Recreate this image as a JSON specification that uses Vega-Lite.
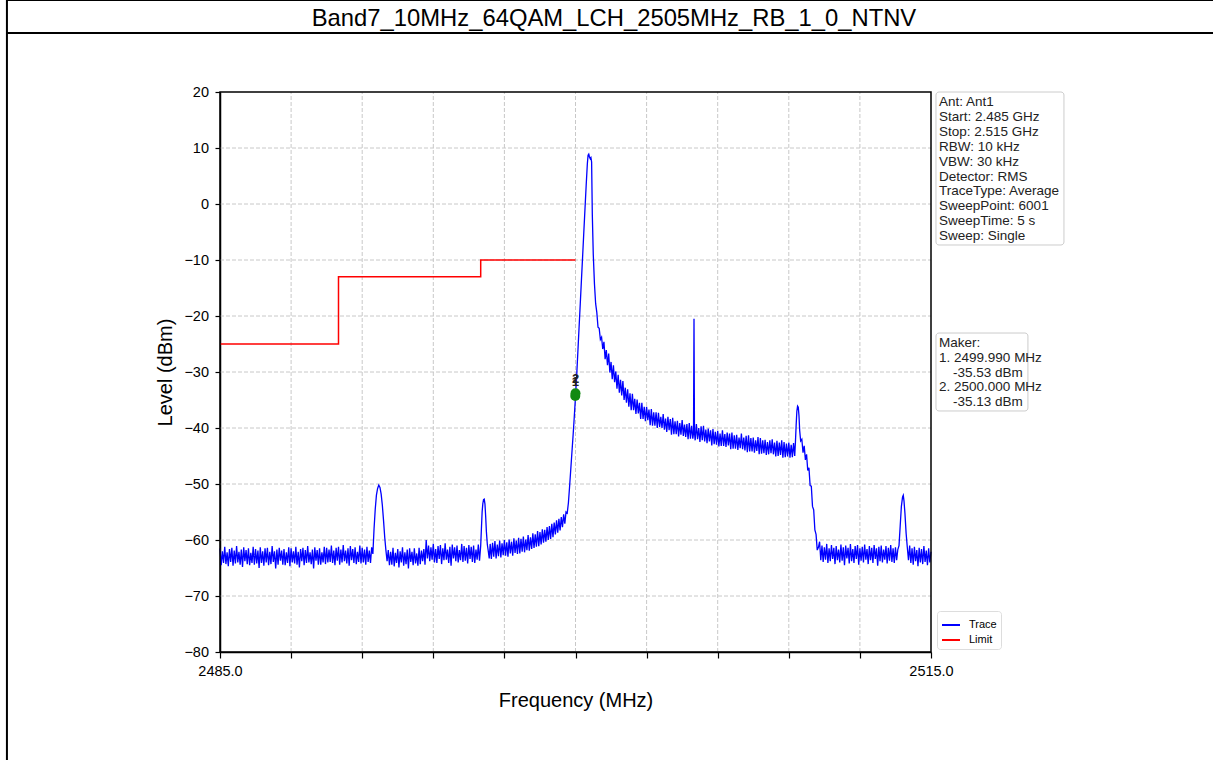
{
"$schema": "https://vega.github.io/schema/vega-lite/v6.json",
"width": 1206,
"height": 727,
"autosize": {"type": "none"},
"padding": {"left": 7, "top": 33, "right": 0, "bottom": 0},
"background": "white",
"config": {"font": "Liberation Sans", "view": {"stroke": null}},
"title": {"text": "Band7_10MHz_64QAM_LCH_2505MHz_RB_1_0_NTNV", "fontSize": 23.8, "fontWeight": "normal", "color": "black", "anchor": "middle", "frame": "group", "offset": -32.3, "dx": 4},
"datasets": {
"gx": [{"v":2488},{"v":2491},{"v":2494},{"v":2497},{"v":2500},{"v":2503},{"v":2506},{"v":2509},{"v":2512}],
"gy": [{"v":-70},{"v":-60},{"v":-50},{"v":-40},{"v":-30},{"v":-20},{"v":-10},{"v":0},{"v":10}],
"info1": [{"t": "Ant: Ant1\nStart: 2.485 GHz\nStop: 2.515 GHz\nRBW: 10 kHz\nVBW: 30 kHz\nDetector: RMS\nTraceType: Average\nSweepPoint: 6001\nSweepTime: 5 s\nSweep: Single"}],
"limit": [{"i":0,"f":2485,"l":-25},{"i":1,"f":2490,"l":-25},{"i":2,"f":2490,"l":-13},{"i":3,"f":2496,"l":-13},{"i":4,"f":2496,"l":-10},{"i":5,"f":2500,"l":-10}],
"markers": [{"m":"1","f":2499.99,"l":-34.3},{"m":"2","f":2500.0,"l":-33.8}],
"trace": [
{"f":2485.00,"l":-61.5},{"f":2485.05,"l":-64.5},{"f":2485.10,"l":-62.0},{"f":2485.15,"l":-64.1},{"f":2485.20,"l":-61.2},{"f":2485.25,"l":-64.3},{"f":2485.30,"l":-62.2},{"f":2485.35,"l":-64.7},{"f":2485.40,"l":-61.6},{"f":2485.45,"l":-63.9},
{"f":2485.50,"l":-61.4},{"f":2485.55,"l":-64.6},{"f":2485.60,"l":-61.9},{"f":2485.65,"l":-64.2},{"f":2485.70,"l":-61.1},{"f":2485.75,"l":-64.0},{"f":2485.80,"l":-62.1},{"f":2485.85,"l":-64.4},{"f":2485.90,"l":-61.7},{"f":2485.95,"l":-64.8},
{"f":2486.00,"l":-61.3},{"f":2486.05,"l":-63.8},{"f":2486.10,"l":-61.8},{"f":2486.15,"l":-64.3},{"f":2486.20,"l":-61.5},{"f":2486.25,"l":-64.5},{"f":2486.30,"l":-62.3},{"f":2486.35,"l":-64.1},{"f":2486.40,"l":-61.2},{"f":2486.45,"l":-64.4},
{"f":2486.50,"l":-61.6},{"f":2486.55,"l":-64.2},{"f":2486.60,"l":-61.9},{"f":2486.65,"l":-65.0},{"f":2486.70,"l":-61.3},{"f":2486.75,"l":-64.1},{"f":2486.80,"l":-62.0},{"f":2486.85,"l":-64.6},{"f":2486.90,"l":-61.5},{"f":2486.95,"l":-64.0},
{"f":2487.00,"l":-61.4},{"f":2487.05,"l":-64.5},{"f":2487.10,"l":-62.1},{"f":2487.15,"l":-64.3},{"f":2487.20,"l":-61.1},{"f":2487.25,"l":-63.9},{"f":2487.30,"l":-62.0},{"f":2487.35,"l":-65.1},{"f":2487.40,"l":-61.7},{"f":2487.45,"l":-64.4},
{"f":2487.50,"l":-61.4},{"f":2487.55,"l":-63.7},{"f":2487.60,"l":-61.9},{"f":2487.65,"l":-64.4},{"f":2487.70,"l":-61.6},{"f":2487.75,"l":-64.5},{"f":2487.80,"l":-62.2},{"f":2487.85,"l":-64.1},{"f":2487.90,"l":-61.3},{"f":2487.95,"l":-64.7},
{"f":2488.00,"l":-61.5},{"f":2488.05,"l":-64.0},{"f":2488.10,"l":-62.0},{"f":2488.15,"l":-64.2},{"f":2488.20,"l":-61.2},{"f":2488.25,"l":-64.4},{"f":2488.30,"l":-62.1},{"f":2488.35,"l":-64.9},{"f":2488.40,"l":-61.6},{"f":2488.45,"l":-63.8},
{"f":2488.50,"l":-61.4},{"f":2488.55,"l":-64.5},{"f":2488.60,"l":-61.8},{"f":2488.65,"l":-64.1},{"f":2488.70,"l":-61.1},{"f":2488.75,"l":-64.0},{"f":2488.80,"l":-62.2},{"f":2488.85,"l":-64.3},{"f":2488.90,"l":-61.7},{"f":2488.95,"l":-65.1},
{"f":2489.00,"l":-61.3},{"f":2489.05,"l":-63.7},{"f":2489.10,"l":-61.8},{"f":2489.15,"l":-64.4},{"f":2489.20,"l":-61.5},{"f":2489.25,"l":-64.4},{"f":2489.30,"l":-62.2},{"f":2489.35,"l":-64.0},{"f":2489.40,"l":-61.2},{"f":2489.45,"l":-64.3},
{"f":2489.50,"l":-61.4},{"f":2489.55,"l":-64.0},{"f":2489.60,"l":-61.7},{"f":2489.65,"l":-63.9},{"f":2489.70,"l":-61.0},{"f":2489.75,"l":-64.1},{"f":2489.80,"l":-61.9},{"f":2489.85,"l":-64.5},{"f":2489.90,"l":-61.4},{"f":2489.95,"l":-63.7},
{"f":2490.00,"l":-61.2},{"f":2490.05,"l":-64.4},{"f":2490.10,"l":-61.7},{"f":2490.15,"l":-64.0},{"f":2490.20,"l":-60.9},{"f":2490.25,"l":-63.8},{"f":2490.30,"l":-61.9},{"f":2490.35,"l":-64.2},{"f":2490.40,"l":-61.5},{"f":2490.45,"l":-64.6},
{"f":2490.50,"l":-61.1},{"f":2490.55,"l":-63.6},{"f":2490.60,"l":-61.6},{"f":2490.65,"l":-64.1},{"f":2490.70,"l":-61.3},{"f":2490.75,"l":-64.3},{"f":2490.80,"l":-62.1},{"f":2490.85,"l":-63.9},{"f":2490.90,"l":-61.0},{"f":2490.95,"l":-64.2},
{"f":2491.00,"l":-61.4},{"f":2491.05,"l":-64.0},{"f":2491.10,"l":-61.7},{"f":2491.15,"l":-64.4},{"f":2491.20,"l":-61.2},{"f":2491.25,"l":-63.9},{"f":2491.30,"l":-61.9},{"f":2491.35,"l":-64.1},{"f":2491.40,"l":-61.3},
{"f":2491.45,"l":-62.5},{"f":2491.50,"l":-58.0},{"f":2491.55,"l":-54.5},{"f":2491.60,"l":-52.0},{"f":2491.65,"l":-50.8},{"f":2491.70,"l":-50.2},{"f":2491.75,"l":-50.6},{"f":2491.80,"l":-51.8},{"f":2491.85,"l":-53.8},{"f":2491.90,"l":-56.5},{"f":2491.95,"l":-59.5},{"f":2492.00,"l":-61.8},{"f":2492.05,"l":-63.8},
{"f":2492.10,"l":-61.8},{"f":2492.15,"l":-64.5},{"f":2492.20,"l":-62.1},{"f":2492.25,"l":-64.4},{"f":2492.30,"l":-61.4},{"f":2492.35,"l":-64.7},{"f":2492.40,"l":-62.3},{"f":2492.45,"l":-64.1},{"f":2492.50,"l":-61.6},{"f":2492.55,"l":-64.9},
{"f":2492.60,"l":-62.0},{"f":2492.65,"l":-64.0},{"f":2492.70,"l":-61.3},{"f":2492.75,"l":-64.6},{"f":2492.80,"l":-62.2},{"f":2492.85,"l":-64.3},{"f":2492.90,"l":-61.7},{"f":2492.95,"l":-65.1},{"f":2493.00,"l":-61.5},{"f":2493.05,"l":-63.9},
{"f":2493.10,"l":-62.1},{"f":2493.15,"l":-64.5},{"f":2493.20,"l":-61.5},{"f":2493.25,"l":-64.2},{"f":2493.30,"l":-62.4},{"f":2493.35,"l":-64.6},{"f":2493.40,"l":-61.4},{"f":2493.45,"l":-64.3},{"f":2493.50,"l":-61.9},{"f":2493.55,"l":-63.8},
{"f":2493.60,"l":-61.6},{"f":2493.65,"l":-64.4},{"f":2493.70,"l":-60.0},{"f":2493.75,"l":-63.3},
{"f":2493.80,"l":-61.0},{"f":2493.85,"l":-63.8},{"f":2493.90,"l":-61.3},{"f":2493.95,"l":-63.5},{"f":2494.00,"l":-60.7},{"f":2494.05,"l":-64.0},{"f":2494.10,"l":-61.6},{"f":2494.15,"l":-64.1},{"f":2494.20,"l":-61.1},{"f":2494.25,"l":-63.4},
{"f":2494.30,"l":-60.9},{"f":2494.35,"l":-64.3},{"f":2494.40,"l":-61.5},{"f":2494.45,"l":-63.6},{"f":2494.50,"l":-60.6},{"f":2494.55,"l":-63.5},{"f":2494.60,"l":-61.7},{"f":2494.65,"l":-64.1},{"f":2494.70,"l":-61.2},{"f":2494.75,"l":-64.6},
{"f":2494.80,"l":-60.8},{"f":2494.85,"l":-63.3},{"f":2494.90,"l":-61.3},{"f":2494.95,"l":-63.8},{"f":2495.00,"l":-61.0},{"f":2495.05,"l":-64.0},{"f":2495.10,"l":-61.8},{"f":2495.15,"l":-63.6},{"f":2495.20,"l":-60.7},{"f":2495.25,"l":-63.9},
{"f":2495.30,"l":-61.1},{"f":2495.35,"l":-63.7},{"f":2495.40,"l":-61.4},{"f":2495.45,"l":-64.2},{"f":2495.50,"l":-60.9},{"f":2495.55,"l":-63.4},{"f":2495.60,"l":-61.2},{"f":2495.65,"l":-63.9},{"f":2495.70,"l":-61.0},{"f":2495.75,"l":-64.1},
{"f":2495.80,"l":-61.7},{"f":2495.85,"l":-63.5},{"f":2495.90,"l":-60.8},{"f":2495.95,"l":-63.7},
{"f":2496.00,"l":-61.0},{"f":2496.03,"l":-58.0},{"f":2496.06,"l":-55.0},{"f":2496.09,"l":-53.5},{"f":2496.12,"l":-52.8},{"f":2496.15,"l":-52.7},{"f":2496.18,"l":-53.6},{"f":2496.21,"l":-55.8},{"f":2496.24,"l":-58.5},{"f":2496.28,"l":-60.8},{"f":2496.32,"l":-62.0},{"f":2496.36,"l":-63.3},
{"f":2496.40,"l":-60.7},{"f":2496.45,"l":-63.4},{"f":2496.50,"l":-60.5},{"f":2496.55,"l":-63.0},{"f":2496.60,"l":-60.2},{"f":2496.65,"l":-63.3},{"f":2496.70,"l":-60.8},{"f":2496.75,"l":-62.9},{"f":2496.80,"l":-60.1},{"f":2496.85,"l":-63.1},
{"f":2496.90,"l":-60.6},{"f":2496.95,"l":-62.7},{"f":2497.00,"l":-60.0},{"f":2497.05,"l":-62.8},{"f":2497.10,"l":-60.4},{"f":2497.15,"l":-63.0},{"f":2497.20,"l":-59.9},{"f":2497.25,"l":-62.4},{"f":2497.30,"l":-60.3},{"f":2497.35,"l":-62.8},
{"f":2497.40,"l":-59.7},{"f":2497.45,"l":-62.3},{"f":2497.50,"l":-60.1},{"f":2497.55,"l":-62.5},{"f":2497.60,"l":-59.6},{"f":2497.65,"l":-62.4},{"f":2497.70,"l":-59.8},{"f":2497.75,"l":-62.1},{"f":2497.80,"l":-59.4},{"f":2497.85,"l":-62.2},
{"f":2497.90,"l":-59.9},{"f":2497.95,"l":-61.8},{"f":2498.00,"l":-59.1},{"f":2498.05,"l":-61.9},{"f":2498.10,"l":-59.5},{"f":2498.15,"l":-61.6},{"f":2498.20,"l":-58.8},{"f":2498.25,"l":-61.4},{"f":2498.30,"l":-59.0},{"f":2498.35,"l":-61.2},
{"f":2498.40,"l":-58.4},{"f":2498.45,"l":-61.1},{"f":2498.50,"l":-58.6},{"f":2498.55,"l":-60.8},{"f":2498.60,"l":-58.1},{"f":2498.65,"l":-60.5},{"f":2498.70,"l":-58.2},{"f":2498.75,"l":-60.3},{"f":2498.80,"l":-57.7},{"f":2498.85,"l":-60.0},
{"f":2498.90,"l":-57.5},{"f":2498.95,"l":-59.8},{"f":2499.00,"l":-57.1},{"f":2499.05,"l":-59.5},{"f":2499.10,"l":-56.9},{"f":2499.15,"l":-59.0},{"f":2499.20,"l":-56.5},{"f":2499.25,"l":-58.7},{"f":2499.30,"l":-56.2},{"f":2499.35,"l":-58.3},
{"f":2499.40,"l":-55.9},{"f":2499.45,"l":-57.7},{"f":2499.50,"l":-55.4},{"f":2499.55,"l":-57.1},{"f":2499.60,"l":-55.0},{"f":2499.65,"l":-55.2},
{"f":2499.70,"l":-53.4},{"f":2499.75,"l":-50.5},{"f":2499.80,"l":-47.4},{"f":2499.85,"l":-44.3},{"f":2499.90,"l":-41.2},{"f":2499.95,"l":-37.9},{"f":2500.00,"l":-34.4},{"f":2500.05,"l":-30.6},{"f":2500.10,"l":-26.4},{"f":2500.15,"l":-22.1},
{"f":2500.20,"l":-17.9},{"f":2500.25,"l":-13.6},{"f":2500.30,"l":-9.4},{"f":2500.35,"l":-5.1},{"f":2500.40,"l":-0.9},{"f":2500.45,"l":3.3},{"f":2500.50,"l":7.2},{"f":2500.53,"l":8.7},{"f":2500.56,"l":8.9},{"f":2500.59,"l":8.4},
{"f":2500.62,"l":8.1},{"f":2500.65,"l":8.3},{"f":2500.68,"l":7.5},{"f":2500.71,"l":-2.0},
{"f":2500.75,"l":-9.0},{"f":2500.80,"l":-14.3},{"f":2500.85,"l":-17.8},{"f":2500.90,"l":-19.4},{"f":2500.95,"l":-22.0},{"f":2501.00,"l":-22.2},{"f":2501.05,"l":-24.2},{"f":2501.10,"l":-23.8},{"f":2501.15,"l":-25.9},{"f":2501.20,"l":-24.6},
{"f":2501.25,"l":-27.7},{"f":2501.30,"l":-26.1},{"f":2501.35,"l":-28.8},{"f":2501.40,"l":-26.7},{"f":2501.45,"l":-30.1},{"f":2501.50,"l":-28.2},{"f":2501.55,"l":-31.3},{"f":2501.60,"l":-28.8},{"f":2501.65,"l":-31.8},{"f":2501.70,"l":-29.9},
{"f":2501.75,"l":-33.0},{"f":2501.80,"l":-30.5},{"f":2501.85,"l":-33.7},{"f":2501.90,"l":-31.4},{"f":2501.95,"l":-34.2},{"f":2502.00,"l":-31.6},{"f":2502.05,"l":-35.0},{"f":2502.10,"l":-32.8},{"f":2502.15,"l":-35.5},{"f":2502.20,"l":-33.1},
{"f":2502.25,"l":-36.2},{"f":2502.30,"l":-33.8},{"f":2502.35,"l":-36.8},{"f":2502.40,"l":-33.9},{"f":2502.45,"l":-36.8},{"f":2502.50,"l":-34.8},{"f":2502.55,"l":-37.5},{"f":2502.60,"l":-34.9},{"f":2502.65,"l":-37.4},{"f":2502.70,"l":-35.5},
{"f":2502.75,"l":-38.4},{"f":2502.80,"l":-35.5},{"f":2502.85,"l":-38.4},{"f":2502.90,"l":-36.2},{"f":2502.95,"l":-38.8},{"f":2503.00,"l":-36.2},{"f":2503.05,"l":-38.6},{"f":2503.10,"l":-36.7},{"f":2503.15,"l":-39.5},{"f":2503.20,"l":-36.6},
{"f":2503.25,"l":-39.6},{"f":2503.30,"l":-37.2},{"f":2503.35,"l":-39.6},{"f":2503.40,"l":-37.2},{"f":2503.45,"l":-40.0},{"f":2503.50,"l":-37.3},{"f":2503.55,"l":-39.8},{"f":2503.60,"l":-38.0},{"f":2503.65,"l":-40.0},{"f":2503.70,"l":-37.5},
{"f":2503.75,"l":-40.3},{"f":2503.80,"l":-38.3},{"f":2503.85,"l":-40.7},{"f":2503.90,"l":-38.0},{"f":2503.95,"l":-40.4},{"f":2504.00,"l":-38.4},{"f":2504.05,"l":-41.2},{"f":2504.10,"l":-38.2},{"f":2504.15,"l":-41.1},{"f":2504.20,"l":-38.8},
{"f":2504.25,"l":-41.1},{"f":2504.30,"l":-38.7},{"f":2504.35,"l":-41.5},{"f":2504.40,"l":-39.1},{"f":2504.45,"l":-41.2},{"f":2504.50,"l":-38.6},{"f":2504.55,"l":-41.4},{"f":2504.60,"l":-39.4},{"f":2504.65,"l":-41.6},{"f":2504.70,"l":-39.3},
{"f":2504.75,"l":-42.0},{"f":2504.80,"l":-39.1},{"f":2504.85,"l":-41.9},{"f":2504.90,"l":-39.6},{"f":2504.95,"l":-41.9},{"f":2504.98,"l":-40.9},{"f":2505.00,"l":-20.5},{"f":2505.02,"l":-40.8},{"f":2505.05,"l":-42.2},{"f":2505.10,"l":-39.3},
{"f":2505.15,"l":-42.0},{"f":2505.20,"l":-40.0},{"f":2505.25,"l":-42.5},{"f":2505.30,"l":-39.7},{"f":2505.35,"l":-42.2},{"f":2505.40,"l":-39.6},{"f":2505.45,"l":-42.4},{"f":2505.50,"l":-40.3},{"f":2505.55,"l":-42.7},{"f":2505.60,"l":-40.1},
{"f":2505.65,"l":-42.4},{"f":2505.70,"l":-40.4},{"f":2505.75,"l":-43.1},{"f":2505.80,"l":-40.2},{"f":2505.85,"l":-42.9},{"f":2505.90,"l":-40.7},{"f":2505.95,"l":-43.0},{"f":2506.00,"l":-40.5},{"f":2506.05,"l":-43.3},{"f":2506.10,"l":-41.0},
{"f":2506.15,"l":-43.2},{"f":2506.20,"l":-40.4},{"f":2506.25,"l":-43.2},{"f":2506.30,"l":-41.1},{"f":2506.35,"l":-43.4},{"f":2506.40,"l":-40.8},{"f":2506.45,"l":-43.1},{"f":2506.50,"l":-41.0},{"f":2506.55,"l":-43.8},{"f":2506.60,"l":-40.8},
{"f":2506.65,"l":-43.7},{"f":2506.70,"l":-41.3},{"f":2506.75,"l":-43.7},{"f":2506.80,"l":-41.2},{"f":2506.85,"l":-43.9},{"f":2506.90,"l":-41.7},{"f":2506.95,"l":-43.6},{"f":2507.00,"l":-41.0},{"f":2507.05,"l":-43.8},{"f":2507.10,"l":-41.7},
{"f":2507.15,"l":-44.0},{"f":2507.20,"l":-41.4},{"f":2507.25,"l":-44.3},{"f":2507.30,"l":-41.3},{"f":2507.35,"l":-44.2},{"f":2507.40,"l":-41.8},{"f":2507.45,"l":-44.2},{"f":2507.50,"l":-41.7},{"f":2507.55,"l":-44.4},{"f":2507.60,"l":-42.2},
{"f":2507.65,"l":-44.1},{"f":2507.70,"l":-41.6},{"f":2507.75,"l":-44.7},{"f":2507.80,"l":-41.8},{"f":2507.85,"l":-44.6},{"f":2507.90,"l":-42.2},{"f":2507.95,"l":-44.5},{"f":2508.00,"l":-42.1},{"f":2508.05,"l":-44.8},{"f":2508.10,"l":-42.5},
{"f":2508.15,"l":-44.7},{"f":2508.20,"l":-42.2},{"f":2508.25,"l":-44.5},{"f":2508.30,"l":-42.0},{"f":2508.35,"l":-44.7},{"f":2508.40,"l":-42.6},{"f":2508.45,"l":-45.1},{"f":2508.50,"l":-42.3},{"f":2508.55,"l":-45.0},{"f":2508.60,"l":-42.6},
{"f":2508.65,"l":-44.8},{"f":2508.70,"l":-42.2},{"f":2508.75,"l":-45.3},{"f":2508.80,"l":-42.5},{"f":2508.85,"l":-45.2},{"f":2508.90,"l":-42.8},{"f":2508.95,"l":-45.1},{"f":2509.00,"l":-42.6},{"f":2509.05,"l":-45.3},{"f":2509.10,"l":-43.0},
{"f":2509.15,"l":-45.2},{"f":2509.20,"l":-42.7},{"f":2509.25,"l":-45.0},
{"f":2509.28,"l":-42.5},{"f":2509.31,"l":-39.5},{"f":2509.34,"l":-37.0},{"f":2509.37,"l":-36.1},{"f":2509.40,"l":-36.3},{"f":2509.43,"l":-37.8},{"f":2509.46,"l":-40.5},{"f":2509.50,"l":-42.3},{"f":2509.55,"l":-42.0},{"f":2509.60,"l":-44.4},
{"f":2509.65,"l":-43.2},{"f":2509.70,"l":-45.7},{"f":2509.75,"l":-44.7},{"f":2509.80,"l":-47.6},{"f":2509.85,"l":-47.1},{"f":2509.90,"l":-50.3},{"f":2509.95,"l":-50.4},{"f":2510.00,"l":-54.0},{"f":2510.05,"l":-54.6},{"f":2510.10,"l":-58.2},
{"f":2510.15,"l":-59.0},{"f":2510.20,"l":-61.8},{"f":2510.25,"l":-61.3},
{"f":2510.30,"l":-60.3},{"f":2510.35,"l":-63.6},{"f":2510.40,"l":-61.0},{"f":2510.45,"l":-63.9},{"f":2510.50,"l":-61.3},{"f":2510.55,"l":-63.5},{"f":2510.60,"l":-60.7},{"f":2510.65,"l":-64.1},{"f":2510.70,"l":-61.5},{"f":2510.75,"l":-63.8},
{"f":2510.80,"l":-60.9},{"f":2510.85,"l":-63.4},{"f":2510.90,"l":-61.4},{"f":2510.95,"l":-64.3},{"f":2511.00,"l":-61.1},{"f":2511.05,"l":-63.6},{"f":2511.10,"l":-61.7},{"f":2511.15,"l":-64.0},{"f":2511.20,"l":-60.8},{"f":2511.25,"l":-63.7},
{"f":2511.30,"l":-61.3},{"f":2511.35,"l":-64.5},{"f":2511.40,"l":-61.0},{"f":2511.45,"l":-63.3},{"f":2511.50,"l":-61.4},{"f":2511.55,"l":-64.2},{"f":2511.60,"l":-60.7},{"f":2511.65,"l":-63.8},{"f":2511.70,"l":-61.6},{"f":2511.75,"l":-64.1},
{"f":2511.80,"l":-61.1},{"f":2511.85,"l":-63.4},{"f":2511.90,"l":-60.9},{"f":2511.95,"l":-64.4},{"f":2512.00,"l":-61.5},{"f":2512.05,"l":-63.7},{"f":2512.10,"l":-61.2},{"f":2512.15,"l":-64.0},{"f":2512.20,"l":-60.8},{"f":2512.25,"l":-63.5},
{"f":2512.30,"l":-61.6},{"f":2512.35,"l":-64.3},{"f":2512.40,"l":-61.1},{"f":2512.45,"l":-63.6},{"f":2512.50,"l":-61.4},{"f":2512.55,"l":-64.1},{"f":2512.60,"l":-60.9},{"f":2512.65,"l":-63.4},{"f":2512.70,"l":-61.5},{"f":2512.75,"l":-64.6},
{"f":2512.80,"l":-61.2},{"f":2512.85,"l":-63.8},{"f":2512.90,"l":-61.0},{"f":2512.95,"l":-64.0},{"f":2513.00,"l":-61.7},{"f":2513.05,"l":-63.5},{"f":2513.10,"l":-61.1},{"f":2513.15,"l":-64.2},{"f":2513.20,"l":-61.4},{"f":2513.25,"l":-63.7},
{"f":2513.30,"l":-60.9},{"f":2513.35,"l":-63.9},{"f":2513.40,"l":-61.5},{"f":2513.45,"l":-64.1},{"f":2513.50,"l":-61.3},{"f":2513.55,"l":-63.6},{"f":2513.60,"l":-61.7},
{"f":2513.65,"l":-61.0},{"f":2513.70,"l":-57.5},{"f":2513.75,"l":-54.0},{"f":2513.80,"l":-52.3},{"f":2513.83,"l":-52.0},{"f":2513.86,"l":-53.0},{"f":2513.90,"l":-55.2},{"f":2513.95,"l":-58.8},{"f":2514.00,"l":-61.3},{"f":2514.05,"l":-63.6},
{"f":2514.10,"l":-61.0},{"f":2514.15,"l":-64.1},{"f":2514.20,"l":-61.5},{"f":2514.25,"l":-64.4},{"f":2514.30,"l":-61.2},{"f":2514.35,"l":-63.8},{"f":2514.40,"l":-61.8},{"f":2514.45,"l":-64.7},{"f":2514.50,"l":-61.4},{"f":2514.55,"l":-64.0},
{"f":2514.60,"l":-61.6},{"f":2514.65,"l":-64.3},{"f":2514.70,"l":-61.1},{"f":2514.75,"l":-63.9},{"f":2514.80,"l":-61.9},{"f":2514.85,"l":-64.5},{"f":2514.90,"l":-61.5},{"f":2514.95,"l":-64.0},{"f":2515.00,"l":-62.1}
]
},
"layer": [
{"data": {"values": [{}]}, "mark": {"type": "rect", "fillOpacity": 0, "stroke": "black", "strokeWidth": 2},
 "encoding": {"x": {"datum": 2476.01}, "x2": {"datum": 2530}, "y": {"datum": 36.43}, "y2": {"datum": -106.4}}},
{"data": {"values": [{}]}, "mark": {"type": "rule", "color": "black", "strokeWidth": 1.8},
 "encoding": {"x": {"datum": 2476.01}, "x2": {"datum": 2530}, "y": {"datum": 30.54}}},
{"data": {"name": "gx"}, "mark": {"type": "rule", "color": "#c8c8c8", "strokeWidth": 1, "strokeDash": [4, 2]},
 "encoding": {"x": {"field": "v", "type": "quantitative"}, "y": {"datum": -80}, "y2": {"datum": 20}}},
{"data": {"name": "gy"}, "mark": {"type": "rule", "color": "#c8c8c8", "strokeWidth": 1, "strokeDash": [4, 2]},
 "encoding": {"y": {"field": "v", "type": "quantitative"}, "x": {"datum": 2485}, "x2": {"datum": 2515}}},
{"data": {"values": [{}]}, "mark": {"type": "rect", "fill": "white", "stroke": "#cccccc", "strokeWidth": 1, "cornerRadius": 3},
 "encoding": {"x": {"datum": 2515.21}, "x2": {"datum": 2520.61}, "y": {"datum": 20}, "y2": {"datum": -7.32}}},
{"data": {"values": [{}]}, "mark": {"type": "rect", "fill": "white", "stroke": "#cccccc", "strokeWidth": 1, "cornerRadius": 3},
 "encoding": {"x": {"datum": 2515.21}, "x2": {"datum": 2519.09}, "y": {"datum": -23.04}, "y2": {"datum": -36.96}}},
{"data": {"name": "info1"}, "mark": {"type": "text", "align": "left", "baseline": "top", "lineBreak": "\n", "lineHeight": 14.9, "fontSize": 13.5, "color": "#222222"},
 "encoding": {"x": {"datum": 2515.34}, "y": {"datum": 19.46}, "text": {"field": "t"}}},
{"data": {"values": [{"t": "Maker:\n1. 2499.990 MHz"}]}, "mark": {"type": "text", "align": "left", "baseline": "top", "lineBreak": "\n", "lineHeight": 14.8, "fontSize": 13.5, "color": "#222222"},
 "encoding": {"x": {"datum": 2515.34}, "y": {"datum": -23.57}, "text": {"field": "t"}}},
{"data": {"values": [{"t": "-35.53 dBm"}]}, "mark": {"type": "text", "align": "left", "baseline": "top", "fontSize": 13.5, "color": "#222222", "dx": 14},
 "encoding": {"x": {"datum": 2515.34}, "y": {"datum": -28.86}, "text": {"field": "t"}}},
{"data": {"values": [{"t": "2. 2500.000 MHz"}]}, "mark": {"type": "text", "align": "left", "baseline": "top", "fontSize": 13.5, "color": "#222222"},
 "encoding": {"x": {"datum": 2515.34}, "y": {"datum": -31.5}, "text": {"field": "t"}}},
{"data": {"values": [{"t": "-35.13 dBm"}]}, "mark": {"type": "text", "align": "left", "baseline": "top", "fontSize": 13.5, "color": "#222222", "dx": 14},
 "encoding": {"x": {"datum": 2515.34}, "y": {"datum": -34.14}, "text": {"field": "t"}}},
{"data": {"name": "trace"}, "mark": {"type": "line", "strokeWidth": 1.3},
 "encoding": {
  "x": {"field": "f", "type": "quantitative",
   "scale": {"domain": [2485, 2515], "range": [213, 924], "nice": false, "zero": false},
   "axis": {"title": "Frequency (MHz)", "values": [2485, 2488, 2491, 2494, 2497, 2500, 2503, 2506, 2509, 2512, 2515],
    "labelExpr": "datum.value == 2485 || datum.value == 2515 ? format(datum.value, '.1f') : ''",
    "offset": -108, "grid": false, "domain": true, "domainColor": "black", "domainWidth": 1.5,
    "ticks": true, "tickColor": "black", "tickSize": 6, "tickWidth": 1.2,
    "labelFontSize": 14.5, "labelColor": "black", "labelPadding": 6, "labelFlush": false, "labelOverlap": false,
    "titleFontSize": 20, "titleFontWeight": "normal", "titleColor": "black", "titlePadding": 13}},
  "y": {"field": "l", "type": "quantitative",
   "scale": {"domain": [-80, 20], "range": [619, 59], "nice": false, "zero": false},
   "axis": {"title": "Level (dBm)", "values": [-80, -70, -60, -50, -40, -30, -20, -10, 0, 10, 20],
    "offset": -213, "grid": false, "domain": true, "domainColor": "black", "domainWidth": 1.5,
    "ticks": true, "tickColor": "black", "tickSize": 5, "tickWidth": 1.2,
    "labelFontSize": 14.5, "labelColor": "black", "labelPadding": 6.5, "labelFlush": false, "labelOverlap": false,
    "titleFontSize": 20, "titleFontWeight": "normal", "titleColor": "black", "titlePadding": 8}},
  "color": {"datum": "Trace", "type": "nominal",
   "scale": {"domain": ["Trace", "Limit"], "range": ["#0000ff", "#ff0000"]},
   "legend": {"title": null, "orient": "none", "legendX": 930, "legendY": 578, "symbolType": "stroke", "symbolStrokeWidth": 2,
    "symbolSize": 324, "labelFontSize": 11, "labelColor": "black", "strokeColor": "#dddddd", "fillColor": "white",
    "padding": 4, "cornerRadius": 3, "rowPadding": 0, "labelOffset": 8}}
 }},
{"data": {"name": "limit"}, "mark": {"type": "line", "strokeWidth": 1.5},
 "encoding": {"x": {"field": "f", "type": "quantitative"}, "y": {"field": "l", "type": "quantitative"},
  "order": {"field": "i", "type": "quantitative"}, "color": {"datum": "Limit", "type": "nominal"}}},
{"data": {"name": "markers"}, "mark": {"type": "point", "filled": true, "color": "#128a12", "size": 100, "opacity": 1},
 "encoding": {"x": {"field": "f", "type": "quantitative"}, "y": {"field": "l", "type": "quantitative"}}},
{"data": {"name": "markers"}, "mark": {"type": "text", "dy": -14, "fontSize": 13, "fontWeight": "bold", "color": "#222222"},
 "encoding": {"x": {"field": "f", "type": "quantitative"}, "y": {"field": "l", "type": "quantitative"}, "text": {"field": "m"}}},
{"data": {"values": [{}]}, "mark": {"type": "rect", "fillOpacity": 0, "stroke": "black", "strokeWidth": 1.5},
 "encoding": {"x": {"datum": 2485}, "x2": {"datum": 2515}, "y": {"datum": -80}, "y2": {"datum": 20}}}
]
}
